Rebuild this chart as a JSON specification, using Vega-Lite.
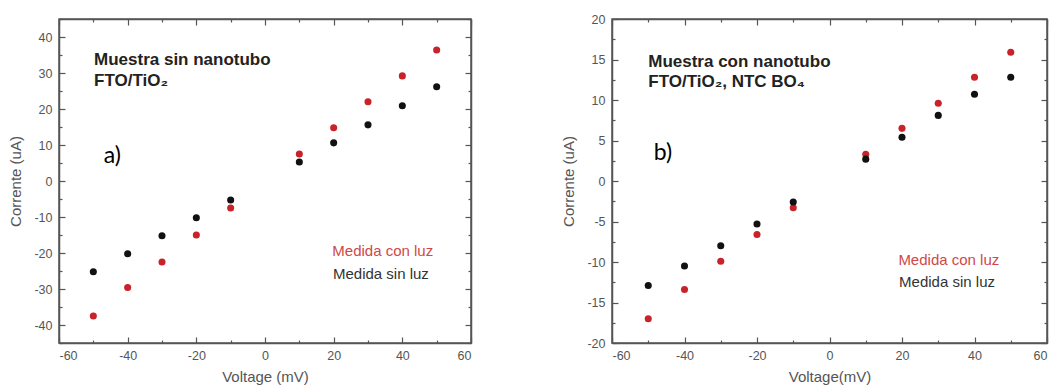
{
  "$schema": "https://vega.github.io/schema/vega-lite/v6.json",
  "background": "white",
  "padding": {"left": 8, "top": 12, "right": 0, "bottom": 0},
  "spacing": 88,
  "config": {
    "font": "Liberation Sans",
    "view": {"stroke": "#555", "strokeWidth": 1.5},
    "axis": {
      "grid": false,
      "domainColor": "#555",
      "domainWidth": 1.5,
      "tickColor": "#555",
      "tickWidth": 1.2,
      "labelColor": "#555",
      "labelFontSize": 12.5,
      "labelFont": "Liberation Sans",
      "titleColor": "#555",
      "titleFontSize": 15,
      "titleFontWeight": "normal",
      "titleFont": "Liberation Sans"
    }
  },
  "hconcat": [
    {
      "width": 412,
      "height": 324,
      "data": {"values": [
        {"v": -50, "i": -37.5, "serie": "con luz"},
        {"v": -40, "i": -29.6, "serie": "con luz"},
        {"v": -30, "i": -22.5, "serie": "con luz"},
        {"v": -20, "i": -15.0, "serie": "con luz"},
        {"v": -10, "i": -7.5, "serie": "con luz"},
        {"v": 10, "i": 7.5, "serie": "con luz"},
        {"v": 20, "i": 14.8, "serie": "con luz"},
        {"v": 30, "i": 22.0, "serie": "con luz"},
        {"v": 40, "i": 29.2, "serie": "con luz"},
        {"v": 50, "i": 36.4, "serie": "con luz"},
        {"v": -50, "i": -25.2, "serie": "sin luz"},
        {"v": -40, "i": -20.2, "serie": "sin luz"},
        {"v": -30, "i": -15.2, "serie": "sin luz"},
        {"v": -20, "i": -10.2, "serie": "sin luz"},
        {"v": -10, "i": -5.3, "serie": "sin luz"},
        {"v": 10, "i": 5.3, "serie": "sin luz"},
        {"v": 20, "i": 10.6, "serie": "sin luz"},
        {"v": 30, "i": 15.6, "serie": "sin luz"},
        {"v": 40, "i": 20.9, "serie": "sin luz"},
        {"v": 50, "i": 26.2, "serie": "sin luz"}
      ]},
      "layer": [
        {
          "mark": {"type": "circle", "size": 50, "opacity": 1},
          "encoding": {
            "x": {"field": "v", "type": "quantitative",
              "scale": {"domain": [-60, 60], "nice": false, "zero": false},
              "axis": {"orient": "bottom", "title": "Voltage (mV)", "values": [-60,-50,-40,-30,-20,-10,0,10,20,30,40,50,60],
                "labelExpr": "datum.value % 20 === 0 ? replace(datum.label, '\u2212', '-') : ''",
                "tickSize": {"condition": {"test": "datum.value % 20 === 0", "value": -6}, "value": -3},
                "labelPadding": 12, "titlePadding": 8}},
            "y": {"field": "i", "type": "quantitative",
              "scale": {"domain": [-45, 45], "nice": false, "zero": false},
              "axis": {"orient": "left", "title": "Corrente (uA)", "values": [-45,-40,-35,-30,-25,-20,-15,-10,-5,0,5,10,15,20,25,30,35,40,45],
                "labelExpr": "datum.value % 10 === 0 ? replace(datum.label, '\u2212', '-') : ''",
                "tickSize": {"condition": {"test": "datum.value % 10 === 0", "value": -6}, "value": -3},
                "labelPadding": 13, "titlePadding": 10}},
            "color": {"field": "serie", "type": "nominal",
              "scale": {"domain": ["con luz", "sin luz"], "range": ["#c8222a", "#111111"]}, "legend": null}
          }
        },
        {
          "data": {"values": [{"t": "Muestra sin nanotubo"}]},
          "mark": {"type": "text", "font": "Liberation Sans", "fontWeight": "bold", "fontSize": 17, "align": "left", "baseline": "middle", "color": "#222"},
          "encoding": {
            "x": {"datum": -49.8, "type": "quantitative",
              "axis": {"orient": "top", "title": null, "values": [-60,-50,-40,-30,-20,-10,0,10,20,30,40,50,60], "labels": false,
                "tickSize": {"condition": {"test": "datum.value % 20 === 0", "value": -6}, "value": -3}}},
            "y": {"datum": 33.5, "type": "quantitative",
              "axis": {"orient": "right", "title": null, "values": [-45,-40,-35,-30,-25,-20,-15,-10,-5,0,5,10,15,20,25,30,35,40,45], "labels": false,
                "tickSize": {"condition": {"test": "datum.value % 10 === 0", "value": -6}, "value": -3}}},
            "text": {"field": "t"}
          }
        },
        {
          "data": {"values": [{"t": "FTO/TiO₂"}]},
          "mark": {"type": "text", "font": "Liberation Sans", "fontWeight": "bold", "fontSize": 17, "align": "left", "baseline": "middle", "color": "#222"},
          "encoding": {
            "x": {"datum": -49.8, "type": "quantitative", "axis": null},
            "y": {"datum": 27.7, "type": "quantitative", "axis": null},
            "text": {"field": "t"}
          }
        },
        {
          "data": {"values": [{"t": "a)"}]},
          "mark": {"type": "text", "font": "Lato", "fontSize": 23, "align": "left", "baseline": "middle", "color": "#000"},
          "encoding": {
            "x": {"datum": -47, "type": "quantitative", "axis": null},
            "y": {"datum": 7.0, "type": "quantitative", "axis": null},
            "text": {"field": "t"}
          }
        },
        {
          "data": {"values": [{"t": "Medida con luz"}]},
          "mark": {"type": "text", "font": "Liberation Sans", "fontSize": 15, "align": "left", "baseline": "middle", "color": "#d04848"},
          "encoding": {
            "x": {"datum": 19.6, "type": "quantitative", "axis": null},
            "y": {"datum": -19.5, "type": "quantitative", "axis": null},
            "text": {"field": "t"}
          }
        },
        {
          "data": {"values": [{"t": "Medida sin luz"}]},
          "mark": {"type": "text", "font": "Liberation Sans", "fontSize": 15, "align": "left", "baseline": "middle", "color": "#333"},
          "encoding": {
            "x": {"datum": 19.8, "type": "quantitative", "axis": null},
            "y": {"datum": -25.7, "type": "quantitative", "axis": null},
            "text": {"field": "t"}
          }
        }
      ]
    },
    {
      "width": 435,
      "height": 324,
      "data": {"values": [
        {"v": -50, "i": -17.0, "serie": "con luz"},
        {"v": -40, "i": -13.4, "serie": "con luz"},
        {"v": -30, "i": -9.9, "serie": "con luz"},
        {"v": -20, "i": -6.6, "serie": "con luz"},
        {"v": -10, "i": -3.3, "serie": "con luz"},
        {"v": 10, "i": 3.3, "serie": "con luz"},
        {"v": 20, "i": 6.5, "serie": "con luz"},
        {"v": 30, "i": 9.6, "serie": "con luz"},
        {"v": 40, "i": 12.8, "serie": "con luz"},
        {"v": 50, "i": 15.9, "serie": "con luz"},
        {"v": -50, "i": -12.9, "serie": "sin luz"},
        {"v": -40, "i": -10.5, "serie": "sin luz"},
        {"v": -30, "i": -8.0, "serie": "sin luz"},
        {"v": -20, "i": -5.3, "serie": "sin luz"},
        {"v": -10, "i": -2.6, "serie": "sin luz"},
        {"v": 10, "i": 2.7, "serie": "sin luz"},
        {"v": 20, "i": 5.4, "serie": "sin luz"},
        {"v": 30, "i": 8.1, "serie": "sin luz"},
        {"v": 40, "i": 10.7, "serie": "sin luz"},
        {"v": 50, "i": 12.8, "serie": "sin luz"}
      ]},
      "layer": [
        {
          "mark": {"type": "circle", "size": 50, "opacity": 1},
          "encoding": {
            "x": {"field": "v", "type": "quantitative",
              "scale": {"domain": [-60, 60], "nice": false, "zero": false},
              "axis": {"orient": "bottom", "title": "Voltage(mV)", "values": [-60,-50,-40,-30,-20,-10,0,10,20,30,40,50,60],
                "labelExpr": "datum.value % 20 === 0 ? replace(datum.label, '\u2212', '-') : ''",
                "tickSize": {"condition": {"test": "datum.value % 20 === 0", "value": -6}, "value": -3},
                "labelPadding": 12, "titlePadding": 8}},
            "y": {"field": "i", "type": "quantitative",
              "scale": {"domain": [-20, 20], "nice": false, "zero": false},
              "axis": {"orient": "left", "title": "Corrente (uA)", "values": [-20,-17.5,-15,-12.5,-10,-7.5,-5,-2.5,0,2.5,5,7.5,10,12.5,15,17.5,20],
                "labelExpr": "datum.value % 5 === 0 ? replace(datum.label, '\u2212', '-') : ''",
                "tickSize": {"condition": {"test": "datum.value % 5 === 0", "value": -6}, "value": -3},
                "labelPadding": 13, "titlePadding": 10}},
            "color": {"field": "serie", "type": "nominal",
              "scale": {"domain": ["con luz", "sin luz"], "range": ["#c8222a", "#111111"]}, "legend": null}
          }
        },
        {
          "data": {"values": [{"t": "Muestra con nanotubo"}]},
          "mark": {"type": "text", "font": "Liberation Sans", "fontWeight": "bold", "fontSize": 17, "align": "left", "baseline": "middle", "color": "#222"},
          "encoding": {
            "x": {"datum": -50, "type": "quantitative",
              "axis": {"orient": "top", "title": null, "values": [-60,-50,-40,-30,-20,-10,0,10,20,30,40,50,60], "labels": false,
                "tickSize": {"condition": {"test": "datum.value % 20 === 0", "value": -6}, "value": -3}}},
            "y": {"datum": 14.65, "type": "quantitative",
              "axis": {"orient": "right", "title": null, "values": [-20,-17.5,-15,-12.5,-10,-7.5,-5,-2.5,0,2.5,5,7.5,10,12.5,15,17.5,20], "labels": false,
                "tickSize": {"condition": {"test": "datum.value % 5 === 0", "value": -6}, "value": -3}}},
            "text": {"field": "t"}
          }
        },
        {
          "data": {"values": [{"t": "FTO/TiO₂, NTC BO₄"}]},
          "mark": {"type": "text", "font": "Liberation Sans", "fontWeight": "bold", "fontSize": 17, "align": "left", "baseline": "middle", "color": "#222"},
          "encoding": {
            "x": {"datum": -50, "type": "quantitative", "axis": null},
            "y": {"datum": 12.2, "type": "quantitative", "axis": null},
            "text": {"field": "t"}
          }
        },
        {
          "data": {"values": [{"t": "b)"}]},
          "mark": {"type": "text", "font": "Lato", "fontSize": 23, "align": "left", "baseline": "middle", "color": "#000"},
          "encoding": {
            "x": {"datum": -48.5, "type": "quantitative", "axis": null},
            "y": {"datum": 3.5, "type": "quantitative", "axis": null},
            "text": {"field": "t"}
          }
        },
        {
          "data": {"values": [{"t": "Medida con luz"}]},
          "mark": {"type": "text", "font": "Liberation Sans", "fontSize": 15, "align": "left", "baseline": "middle", "color": "#d04848"},
          "encoding": {
            "x": {"datum": 19, "type": "quantitative", "axis": null},
            "y": {"datum": -9.75, "type": "quantitative", "axis": null},
            "text": {"field": "t"}
          }
        },
        {
          "data": {"values": [{"t": "Medida sin luz"}]},
          "mark": {"type": "text", "font": "Liberation Sans", "fontSize": 15, "align": "left", "baseline": "middle", "color": "#333"},
          "encoding": {
            "x": {"datum": 19.2, "type": "quantitative", "axis": null},
            "y": {"datum": -12.5, "type": "quantitative", "axis": null},
            "text": {"field": "t"}
          }
        }
      ]
    }
  ]
}
